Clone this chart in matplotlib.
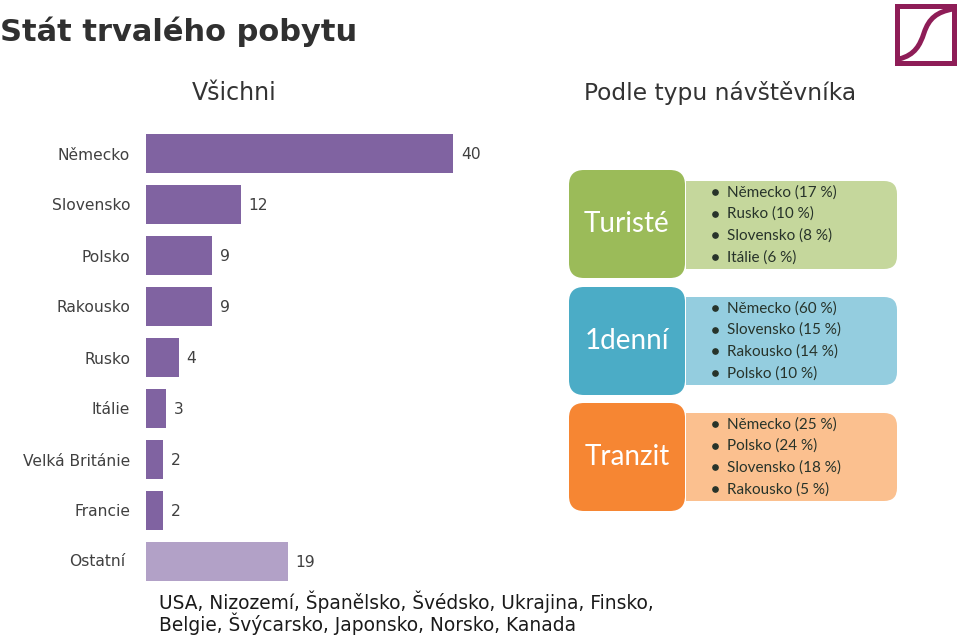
import matplotlib
matplotlib.use("Agg")
import matplotlib.pyplot as plt
from matplotlib.patches import FancyBboxPatch, Rectangle, PathPatch
from matplotlib.path import Path

countries = ["Německo", "Slovensko", "Polsko", "Rakousko", "Rusko", "Itálie", "Velká Británie", "Francie", "Ostatní"]
bar_values = [40, 12.4, 8.7, 8.7, 4.3, 2.7, 2.3, 2.3, 18.5]
bar_labels = ["40", "12", "9", "9", "4", "3", "2", "2", "19"]
groups = ["Turisté", "1denní", "Tranzit"]
group_items = [
    ["Německo (17 %)", "Rusko (10 %)", "Slovensko (8 %)", "Itálie (6 %)"],
    ["Německo (60 %)", "Slovensko (15 %)", "Rakousko (14 %)", "Polsko (10 %)"],
    ["Německo (25 %)", "Polsko (24 %)", "Slovensko (18 %)", "Rakousko (5 %)"],
]
group_colors = ["#9BBB59", "#4BACC6", "#F68633"]
item_colors = ["#C5D79C", "#94CDDF", "#FBC08F"]
note = "USA, Nizozemí, Španělsko, Švédsko, Ukrajina, Finsko,\nBelgie, Švýcarsko, Japonsko, Norsko, Kanada"

W, H = 960, 636
fig = plt.figure(figsize=(W / 100, H / 100), dpi=100, facecolor="white")
bg = fig.add_axes([0, 0, 1, 1])
bg.set_xlim(0, W); bg.set_ylim(H, 0); bg.axis("off")

bg.text(0, 32, "Stát trvalého pobytu", fontsize=21.95, fontweight="bold", color="#303030",
        family="DejaVu Sans", va="center", ha="left")
bg.text(234, 93, "Všichni", fontsize=17, color="#333333", family="DejaVu Sans", va="center", ha="center")
bg.text(720, 93, "Podle typu návštěvníka", fontsize=16.8, color="#333333", family="DejaVu Sans", va="center", ha="center")

# logo
bg.add_patch(Rectangle((897, 6), 57, 57, fc="white", ec="#8E1D57", lw=3.6))
bg.add_patch(PathPatch(Path([(899, 59), (915, 55), (920, 45), (924, 33), (929, 18), (937, 12), (953, 9)],
                            [Path.MOVETO, Path.CURVE4, Path.CURVE4, Path.CURVE4, Path.CURVE4, Path.CURVE4, Path.CURVE4]),
                       fc="none", ec="#8E1D57", lw=3.6))

# chart
x0 = 145.5; per = 7.69; xmax = 45
ax = fig.add_axes([x0 / W, 1 - 587 / H, xmax * per / W, (587 - 128) / H])
ax.set_xlim(0, xmax); ax.set_ylim(8.5, -0.5)
ax.patch.set_alpha(0)
colors = ["#8063A1"] * 8 + ["#B2A1C7"]
ypos = list(range(len(countries)))
ax.barh(ypos, bar_values, height=39 / 51, color=colors, linewidth=0)
for s in ax.spines.values():
    s.set_visible(False)
ax.set_xticks([])
ax.set_yticks(ypos[:-1], countries[:-1], fontsize=11.2, color="#404040", family="DejaVu Sans")
ax.tick_params(axis="y", length=0, pad=11)
ax.text(-2.6, 8, countries[-1], fontsize=11.2, color="#404040", family="DejaVu Sans", ha="right", va="center")
for y, v, t in zip(ypos, bar_values, bar_labels):
    ax.text(v + 1.0, y + 0.02, t, fontsize=11.2, color="#404040", family="DejaVu Sans", ha="left", va="center")

bg.text(159, 613, note, fontsize=13.45, color="#1A1A1A", family="DejaVu Sans", va="center", ha="left", linespacing=0.95)

# right-hand groups
tops = [170, 287, 403]
item_tops = [181, 297, 413]
for top, itop, g, items, c, ic in zip(tops, item_tops, groups, group_items, group_colors, item_colors):
    bg.add_patch(FancyBboxPatch((686, itop), 211, 88, boxstyle="round,pad=0,rounding_size=13", fc=ic, ec="none", zorder=1))
    bg.add_patch(Rectangle((686, itop), 20, 88, fc=ic, ec="none", zorder=1))
    bg.add_patch(FancyBboxPatch((569, top), 116, 108, boxstyle="round,pad=0,rounding_size=15", fc=c, ec="none", zorder=2))
    bg.text(627, top + 54, g, fontsize=20, color="white", family="Lato", ha="center", va="center", zorder=3)
    for i, item in enumerate(items):
        y = itop + 10.8 + 21.7 * i
        bg.plot([714.5], [y], "o", ms=3.8, color="#27332A", zorder=3)
        bg.text(727, y + 0.5, item, fontsize=11, color="#27332A", family="Lato", ha="left", va="center", zorder=3)

fig.savefig("out.png", dpi=100)
